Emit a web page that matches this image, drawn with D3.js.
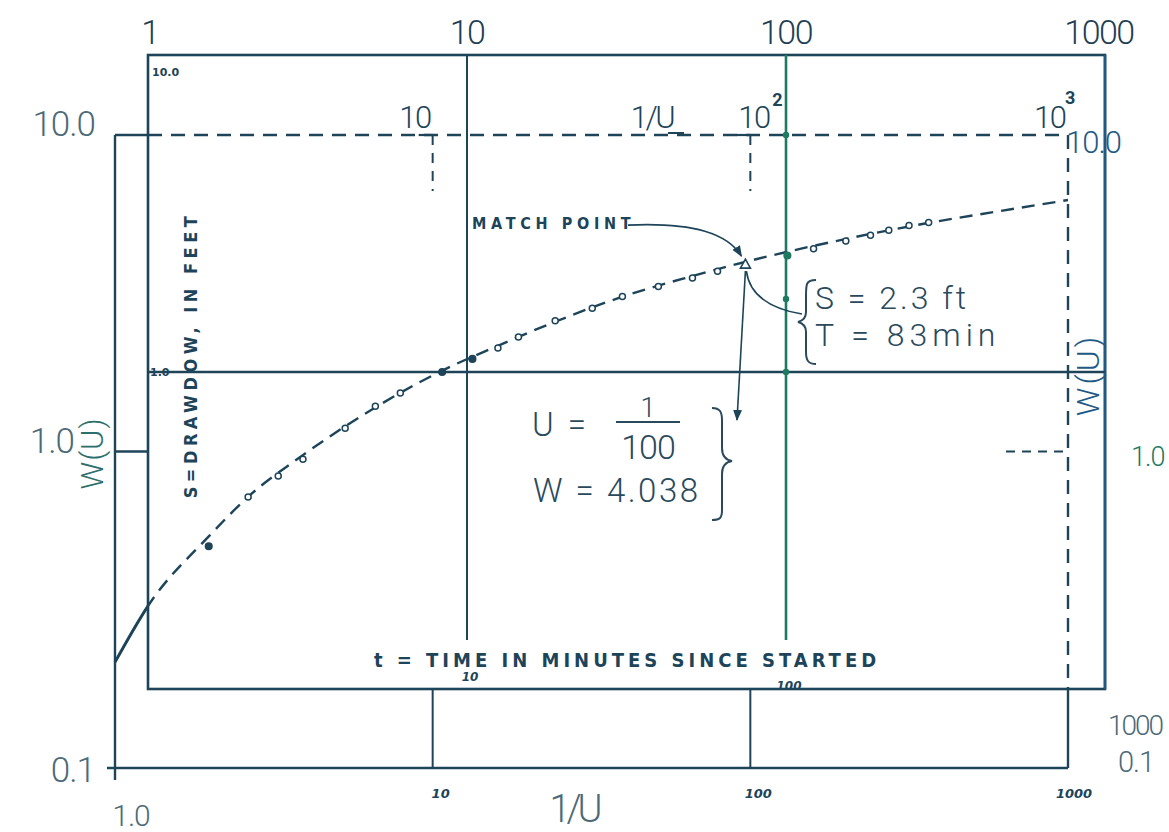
<!DOCTYPE html>
<html>
<head>
<meta charset="utf-8">
<script src="https://cdn.jsdelivr.net/npm/d3@7"></script>
<style>
  body { margin: 0; background: #fff; }
  svg { display: block; }
</style>
</head>
<body>
<svg width="1169" height="832"></svg>
<script>
// type curve W(U) against 1/U
var invU = [1, 1.27, 1.98, 2.62, 3.91, 5.3, 7.89, 10.7, 15.9, 24.3, 39.4, 65.5, 96.2, 130, 199, 362, 611, 1000];
var wU = [0.216, 0.325, 0.541, 0.718, 0.975, 1.2, 1.53, 1.8, 2.15, 2.57, 3.08, 3.58, 3.97, 4.27, 4.69, 5.27, 5.75, 6.23];

// observed drawdown s (ft) against time t (min)
var tMin = [1.55, 2.06, 2.56, 3.06, 4.15, 5.16, 6.18, 8.36, 10.4, 12.5, 14.5, 18.9, 24.7, 30.7, 39.8, 50.9, 61.0, 101, 122, 154, 184, 210, 243, 280];
var sFt = [0.282, 0.403, 0.47, 0.531, 0.665, 0.78, 0.858, 1.0, 1.1, 1.19, 1.29, 1.45, 1.59, 1.73, 1.86, 1.98, 2.08, 2.33, 2.45, 2.59, 2.7, 2.8, 2.9, 2.96];
var filledPts = [0, 7, 8, 17];

// match point
var matchT = 74.6, matchS = 2.19;

// tick labels
var decadeTicks = [1, 10, 100, 1000];
var topLabels = ["1", "10", "100", "1000"];
var wTicks = [10, 1, 0.1];
var wLabels = ["10.0", "1.0", "0.1"];

var svg = d3.select("svg");
var ink = "#1d4459", blue = "#1f5a86", green = "#1e7a60", grey = "#4d6a78", note = "#2a4a5c";
var light = "Roboto, 'Open Sans', 'DejaVu Sans', sans-serif";
var hand = "'DejaVu Sans Condensed', 'DejaVu Sans', sans-serif";

// outer scales: type curve
var xU = d3.scaleLog().domain([1, 1000]).range([115, 1068]);
var yW = d3.scaleLog().domain([0.1, 10]).range([768, 135]);
// inner scales: data sheet
var xT = d3.scaleLog().domain([1, 1000]).range([148, 1105]);
var yS = d3.scaleLog().domain([0.1, 10]).range([689, 55]);

function seg(x1, y1, x2, y2, col, w, dash) {
  svg.append("line")
    .attr("x1", x1).attr("y1", y1).attr("x2", x2).attr("y2", y2)
    .attr("stroke", col || ink)
    .attr("stroke-width", w || 2.4)
    .attr("stroke-dasharray", dash || null);
}
var dsh = "14,9";

// ---- outer type curve sheet ----
seg(xU(1), yW(10), xU(1), yW(0.1) + 12);
seg(xU(1) - 8, yW(0.1), xU(1000), yW(0.1));
seg(xU(1), yW(10), xT(1), yW(10));
seg(xT(1), yW(10), xU(1000), yW(10), ink, 2.4, dsh);
seg(xU(1), yW(1), xT(1), yW(1));
seg(xU(1000) - 62, yW(1), xU(1000), yW(1), ink, 2.2, "9,7");
seg(xU(1000), yW(10), xU(1000), yS(0.1), ink, 2.4, dsh);
seg(xU(1000), yS(0.1), xU(1000), yW(0.1));
[10, 100].forEach(function(d) {
  seg(xU(d), yS(0.1), xU(d), yW(0.1), ink, 2);
  seg(xU(d) - 14, yW(10), xU(d), yW(10), ink, 2.2);
  seg(xU(d), yW(10), xU(d), yW(10) + 56, ink, 2, "10,8");
});

// ---- inner data sheet ----
svg.append("rect")
  .attr("x", xT(1)).attr("y", yS(10))
  .attr("width", xT(1000) - xT(1)).attr("height", yS(0.1) - yS(10))
  .attr("fill", "none").attr("stroke", ink).attr("stroke-width", 2.6);
seg(xT(1000), yS(10), xT(1000), yS(0.1), blue, 2.6);
seg(xT(10), yS(10), xT(10), 640, ink, 2);
seg(xT(100), yS(10), xT(100), 640, green, 2.6);
seg(xT(1), yS(1), xT(1000), yS(1), ink, 2.4);

// ---- type curve: solid left of the sheet, dashed inside ----
var line = d3.line()
  .x(function(d, i) { return xU(invU[i]); })
  .y(function(d) { return yW(d); })
  .curve(d3.curveMonotoneX);
var defs = svg.append("defs");
defs.append("clipPath").attr("id", "cl")
  .append("rect").attr("x", 0).attr("y", 0).attr("width", xT(1)).attr("height", 832);
defs.append("clipPath").attr("id", "cr")
  .append("rect").attr("x", xT(1)).attr("y", 0).attr("width", 1169).attr("height", 832);
svg.append("path").datum(wU).attr("d", line)
  .attr("fill", "none").attr("stroke", ink).attr("stroke-width", 3)
  .attr("clip-path", "url(#cl)");
svg.append("path").datum(wU).attr("d", line)
  .attr("fill", "none").attr("stroke", ink).attr("stroke-width", 2.4)
  .attr("stroke-dasharray", "13,8")
  .attr("clip-path", "url(#cr)");

// ---- observed points ----
svg.append("g").selectAll("circle")
  .data(tMin).enter().append("circle")
  .attr("cx", function(d) { return xT(d); })
  .attr("cy", function(d, i) { return yS(sFt[i]); })
  .attr("r", function(d, i) { return filledPts.indexOf(i) >= 0 ? 3.3 : 3; })
  .attr("fill", function(d, i) {
    if (i == 17) return green;
    return filledPts.indexOf(i) >= 0 ? ink : "#fff";
  })
  .attr("stroke", function(d, i) { return i == 17 ? green : ink; })
  .attr("stroke-width", 1.5);

// match point triangle
var mx = xT(matchT), my = yS(matchS);
svg.append("path")
  .attr("d", "M" + mx + "," + (my - 5) + "L" + (mx + 5) + "," + (my + 4) + "L" + (mx - 5) + "," + (my + 4) + "Z")
  .attr("fill", "#fff").attr("stroke", ink).attr("stroke-width", 1.6);

// green dots along the t = 100 line
[yW(10), yS(1.7), yS(1)].forEach(function(y) {
  svg.append("circle").attr("cx", xT(100)).attr("cy", y).attr("r", 3.2).attr("fill", green);
});

// ---- arrows ----
defs.append("marker").attr("id", "ah")
  .attr("viewBox", "0 0 10 10").attr("refX", 9).attr("refY", 5)
  .attr("markerWidth", 7).attr("markerHeight", 7).attr("orient", "auto")
  .append("path").attr("d", "M0,1L10,5L0,9Z").attr("fill", ink);
svg.append("path")
  .attr("d", "M628," + (my - 39) + " C695," + (my - 42) + " 728," + (my - 30) + " " + (mx - 4) + "," + (my - 8))
  .attr("fill", "none").attr("stroke", ink).attr("stroke-width", 1.6).attr("marker-end", "url(#ah)");
svg.append("path")
  .attr("d", "M" + (mx + 1) + "," + (my + 7) + " C" + (mx + 4) + "," + (my + 30) + " " + (mx + 22) + "," + (my + 44) + " 802," + (my + 50))
  .attr("fill", "none").attr("stroke", ink).attr("stroke-width", 1.6);
svg.append("path")
  .attr("d", "M" + mx + "," + (my + 7) + " L737,420")
  .attr("fill", "none").attr("stroke", ink).attr("stroke-width", 1.6).attr("marker-end", "url(#ah)");

// ---- labels ----
function txt(x, y, s, size, col, opts) {
  opts = opts || {};
  var t = svg.append("text")
    .attr("x", x).attr("y", y)
    .attr("font-family", opts.family || light)
    .attr("font-size", size)
    .attr("font-weight", opts.weight || 300)
    .attr("font-style", opts.italic ? "italic" : null)
    .attr("letter-spacing", opts.ls || null)
    .attr("text-anchor", opts.anchor || "start")
    .attr("fill", col || ink)
    .text(s);
  if (opts.rotate) t.attr("transform", "rotate(" + opts.rotate + "," + x + "," + y + ")");
  return t;
}

// top t axis labels
decadeTicks.forEach(function(d, i) {
  txt(xT(d) + (i == 0 ? 2 : 0) - (i == 3 ? 6 : 0), 44, topLabels[i], 34, "#1f3f55", {anchor: "middle", ls: -1.5});
});
// left W labels
wTicks.forEach(function(d, i) {
  txt(i == 1 ? 74 : 95, yW(d) + (i == 2 ? 14 : 1), wLabels[i], 35, grey, {anchor: "end", ls: -1});
});
txt(103, yW(1) + 2, "W(U)", 31, "#2c6f6c", {anchor: "middle", rotate: -90, ls: 1});
// bottom 1/U labels
txt(xU(1) + 16, 826, "1.0", 30, grey, {anchor: "middle", ls: -1});
txt(xU(10) + 8, 798, "10", 13, ink, {anchor: "middle", weight: 700, italic: true, family: "'DejaVu Sans', sans-serif"});
txt(xU(100) + 8, 798, "100", 13, ink, {anchor: "middle", weight: 700, italic: true, family: "'DejaVu Sans', sans-serif"});
txt(xU(1000) + 6, 798, "1000", 13, ink, {anchor: "middle", weight: 700, italic: true, family: "'DejaVu Sans', sans-serif"});
txt(574, 822, "1/U", 38, grey, {anchor: "middle", ls: -4});
// right side labels
txt(1066, 153, "10.0", 31, blue, {ls: -1});
txt(1131, 466, "1.0", 27, green, {ls: -1});
txt(1108, 735, "1000", 28, grey, {ls: -2});
txt(1118, 772, "0.1", 29, grey, {ls: -1});
txt(1099, 375, "W(U)", 32, blue, {anchor: "middle", rotate: -90, ls: 3});
// labels on the top dashed line
txt(xU(10) - 2, 128, "10", 31, ink, {anchor: "end", ls: -1.5});
txt(652, 128, "1/U", 31, ink, {anchor: "middle", ls: -2.5});
seg(668, 133, 684, 133, ink, 2);
txt(xU(100) - 12, 128, "10", 31, ink, {anchor: "start", ls: -1.5});
txt(xU(100) + 22, 106, "2", 18, ink, {weight: 700});
txt(xU(1000) - 34, 128, "10", 31, ink, {anchor: "start", ls: -1.5});
txt(xU(1000) - 3, 104, "3", 18, ink, {weight: 700});

// inner sheet labels
txt(xT(1) + 4, 76, "10.0", 11, ink, {weight: 700, family: "'DejaVu Sans', sans-serif"});
txt(xT(1) + 2, yS(1) + 4, "1.0", 11, ink, {weight: 700, family: "'DejaVu Sans', sans-serif"});
txt(xT(10) + 3, 681, "10", 12, ink, {anchor: "middle", weight: 700, italic: true, family: "'DejaVu Sans', sans-serif"});
txt(xT(100) + 3, 690, "100", 12, ink, {anchor: "middle", weight: 700, italic: true, family: "'DejaVu Sans', sans-serif"});
txt(627, 667, "t = TIME IN MINUTES SINCE STARTED", 20, ink, {anchor: "middle", weight: 700, ls: 4, family: hand});
txt(197, 355, "S=DRAWDOW, IN FEET", 18, ink, {anchor: "middle", weight: 700, ls: 4.5, rotate: -90, family: hand});
txt(472, 229, "MATCH POINT", 16, ink, {weight: 700, ls: 4.7, family: hand});

// match point readings
txt(815, 309, "S = 2.3 ft", 32, note, {ls: 3});
txt(815, 346, "T = 83min", 32, note, {ls: 5});
svg.append("path")
  .attr("d", "M816,280 C806,280 806,284 806,296 L806,312 C806,318 802,321 798,322 C802,323 806,326 806,332 L806,352 C806,360 808,364 816,364")
  .attr("fill", "none").attr("stroke", note).attr("stroke-width", 2);
txt(532, 436, "U =", 33, note, {ls: 3});
txt(648, 417, "1", 27, note, {anchor: "middle"});
seg(616, 422, 680, 422, note, 1.8);
txt(648, 459, "100", 34, note, {anchor: "middle", ls: -1});
txt(533, 502, "W = 4.038", 33, note, {ls: 2.5});
svg.append("path")
  .attr("d", "M712,408 C720,408 722,412 722,420 L722,448 C722,456 726,460 732,461 C726,462 722,466 722,474 L722,510 C722,518 720,520 712,520")
  .attr("fill", "none").attr("stroke", note).attr("stroke-width", 2);
</script>
</body>
</html>
